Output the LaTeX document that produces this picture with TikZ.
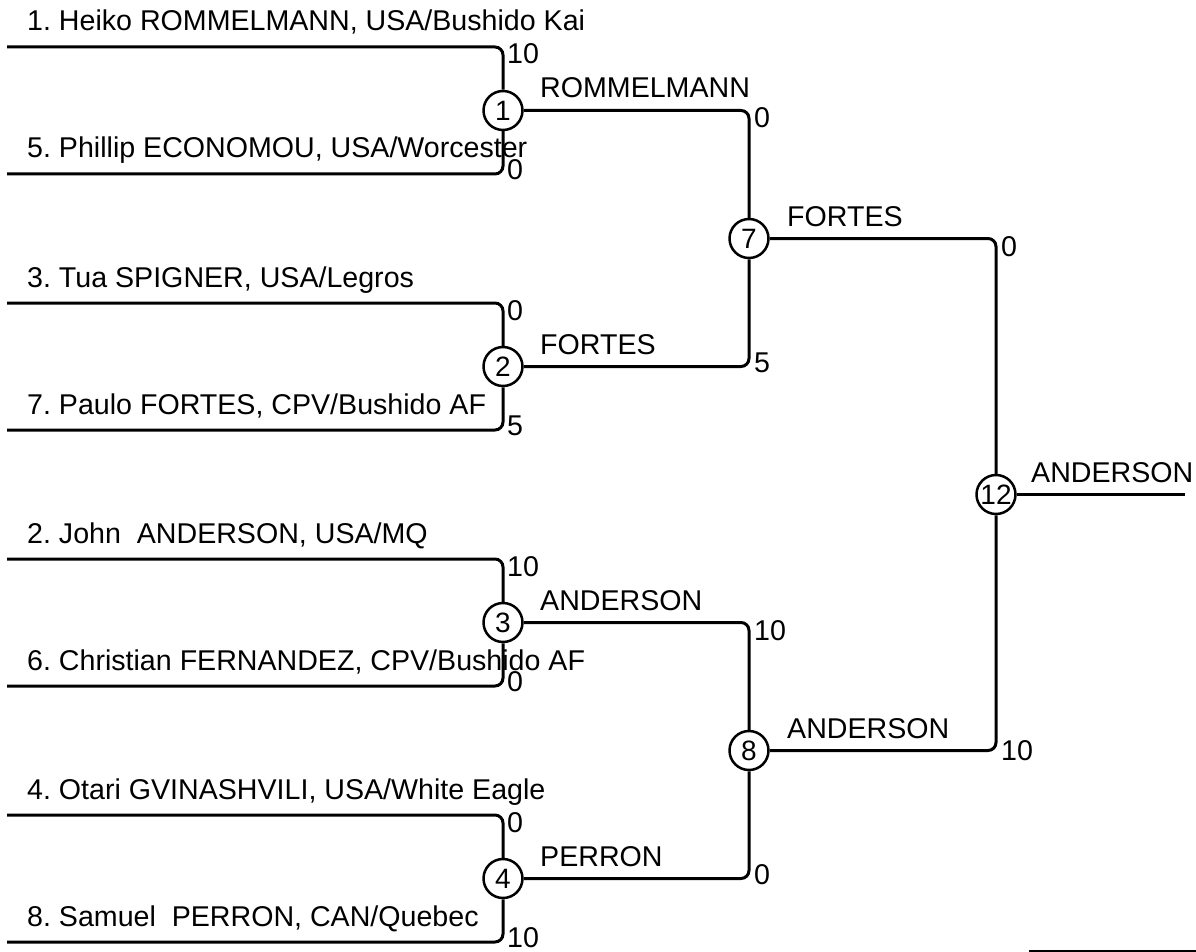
\documentclass[tikz,border=0pt]{standalone}
\usepackage{fontspec}
\setmainfont{Liberation Sans}
\frenchspacing

\begin{document}
\begin{tikzpicture}[x=1pt, y=-1pt]
    \tikzset{
        match/.style={
            draw, circle, line width=2.5pt, minimum size=39pt, inner sep=0pt,
            font=\fontsize{28}{32}\selectfont,
        },
        player/.style={anchor=base west, inner sep=0pt, font=\fontsize{28.6}{34}\selectfont},
        winner/.style={anchor=base west, inner sep=0pt, font=\fontsize{28.6}{34}\selectfont},
        score/.style={anchor=base west, inner sep=0pt, font=\fontsize{28.6}{34}\selectfont},
        bracket/.style={line width=3pt, rounded corners=8pt},
    }
    \useasboundingbox (0,0) rectangle (1196,952);

    % Matches
    \node[match] (m1) at (503,110.5) {1};
    \node[match] (m2) at (503,366.5) {2};
    \node[match] (m3) at (503,622.5) {3};
    \node[match] (m4) at (503,878.5) {4};
    \node[match] (m7) at (749,238.5) {7};
    \node[match] (m8) at (749,750.5) {8};
    \node[match] (m12) at (996,494.5) {12};

    % Players
    \coordinate (p1) at (7,47);
    \coordinate (p5) at (7,174);
    \coordinate (p3) at (7,303);
    \coordinate (p7) at (7,430);
    \coordinate (p2) at (7,559);
    \coordinate (p6) at (7,686);
    \coordinate (p4) at (7,815);
    \coordinate (p8) at (7,942);
    \node[player] (n1) at (27,31) {1. Heiko ROMMELMANN, USA/Bushido Kai};
    \node[player] (n5) at (27,158) {5. Phillip ECONOMOU, USA/Worcester};
    \node[player] (n3) at (27,287) {3. Tua SPIGNER, USA/Legros};
    \node[player] (n7) at (27,414) {7. Paulo FORTES, CPV/Bushido AF};
    \node[player] (n2) at (27,543) {2. John\ \ ANDERSON, USA/MQ};
    \node[player] (n6) at (27,670) {6. Christian FERNANDEZ, CPV/Bushido AF};
    \node[player] (n4) at (27,799) {4. Otari GVINASHVILI, USA/White Eagle};
    \node[player] (n8) at (27,926) {8. Samuel\ \ PERRON, CAN/Quebec};

    % Brackets
    \draw[bracket] (p1) -| (m1);
    \draw[bracket] (p5) -| (m1);
    \draw[bracket] (p3) -| (m2);
    \draw[bracket] (p7) -| (m2);
    \draw[bracket] (p2) -| (m3);
    \draw[bracket] (p6) -| (m3);
    \draw[bracket] (p4) -| (m4);
    \draw[bracket] (p8) -| (m4);
    \draw[bracket] (m1) -| (m7);
    \draw[bracket] (m2) -| (m7);
    \draw[bracket] (m3) -| (m8);
    \draw[bracket] (m4) -| (m8);
    \draw[bracket] (m7) -| (m12);
    \draw[bracket] (m8) -| (m12);
    \coordinate (champ) at (1185,494.5);
    \draw[bracket] (m12) -- (champ);
    \coordinate (rule1) at (1029,951);
    \coordinate (rule2) at (1196,951);
    \draw[bracket] (rule1) -- (rule2);

    % Winners
    \node[winner] (w1) at (540,98) {ROMMELMANN};
    \node[winner] (w2) at (540,354) {FORTES};
    \node[winner] (w3) at (540,610) {ANDERSON};
    \node[winner] (w4) at (540,866) {PERRON};
    \node[winner] (w7) at (787,226) {FORTES};
    \node[winner] (w8) at (787,738) {ANDERSON};
    \node[winner] (w12) at (1031,482) {ANDERSON};

    % Scores
    \node[score] (s1a) at (507,64) {10};
    \node[score] (s1b) at (507,179) {0};
    \node[score] (s2a) at (507,320) {0};
    \node[score] (s2b) at (507,435) {5};
    \node[score] (s3a) at (507,576) {10};
    \node[score] (s3b) at (507,691) {0};
    \node[score] (s4a) at (507,832) {0};
    \node[score] (s4b) at (507,947) {10};
    \node[score] (s7a) at (754,128) {0};
    \node[score] (s7b) at (754,372) {5};
    \node[score] (s8a) at (754,640) {10};
    \node[score] (s8b) at (754,884) {0};
    \node[score] (s12a) at (1001,256) {0};
    \node[score] (s12b) at (1001,760) {10};
\end{tikzpicture}
\end{document}
